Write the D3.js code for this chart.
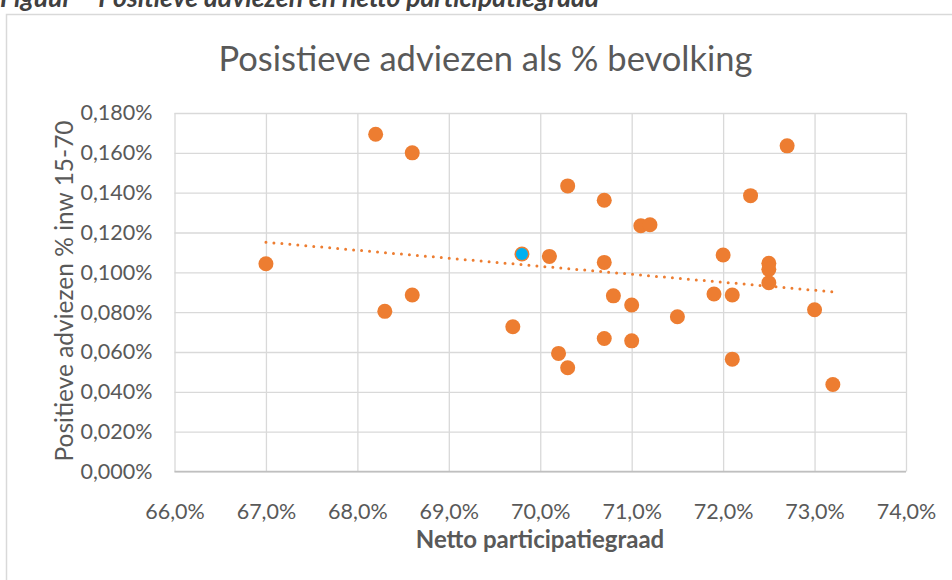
<!DOCTYPE html>
<html lang="nl">
<head>
<meta charset="utf-8">
<script src="https://cdn.jsdelivr.net/npm/d3@7"></script>
<style>
  html, body { margin: 0; padding: 0; background: #fff; overflow: hidden; }
  svg { display: block; font-family: Lato, "Open Sans", sans-serif; }
</style>
</head>
<body>
<div id="chart"></div>
<script>
// Netto participatiegraad (%) per gemeente
const participatie = [
  67.0, 68.2, 68.6, 68.3, 68.6, 69.8, 69.7, 70.1, 70.3, 70.2, 70.3,
  70.7, 70.7, 70.7, 70.8, 71.0, 71.0, 71.1, 71.2, 71.5, 71.9, 72.0,
  72.1, 72.1, 72.3, 72.5, 72.5, 72.5, 72.7, 73.0, 73.2,
];
// Positieve adviezen als % van inwoners 15-70
const adviezen = [
  0.1043, 0.1693, 0.16, 0.0804, 0.0886, 0.1092, 0.0727, 0.108, 0.1434, 0.0593, 0.0521,
  0.1362, 0.105, 0.0668, 0.0882, 0.0836, 0.0656, 0.1234, 0.1239, 0.0777, 0.0891, 0.1087,
  0.0886, 0.0564, 0.1385, 0.1045, 0.1015, 0.0948, 0.1635, 0.0812, 0.0437,
];
// uitgelichte gemeente (blauw)
const highlightX = [69.8];
const highlightY = [0.1092];

const xTicks = [66, 67, 68, 69, 70, 71, 72, 73, 74];
const yTicks = [0, 0.02, 0.04, 0.06, 0.08, 0.1, 0.12, 0.14, 0.16, 0.18];

const headerText = "Figuur – Positieve adviezen en netto participatiegraad";
const titleText = "Posistieve adviezen als % bevolking";
const xTitle = "Netto participatiegraad";
const yTitle = "Positieve adviezen % inw 15-70";

const width = 952, height = 580;
const plot = { left: 174.5, right: 906, top: 113, bottom: 471.5 };
const orange = "#ED7D31", blue = "#00B0F0", grid = "#D9D9D9", textCol = "#595959";

const svg = d3.select("#chart").append("svg")
  .attr("width", width).attr("height", height);

// kopregel (bovenkant valt buiten beeld, zoals in het origineel)
svg.append("text")
  .attr("x", 0).attr("y", 7)
  .style("font-size", "26.5px").style("font-weight", "bold").style("font-style", "italic")
  .attr("fill", "#404040")
  .text(headerText);

// kader van de grafiek
svg.append("rect")
  .attr("x", 6.5).attr("y", 14.5)
  .attr("width", 1000).attr("height", 1000)
  .attr("fill", "none").attr("stroke", grid).attr("stroke-width", 1.5);

const x = d3.scaleLinear().domain([66, 74]).range([plot.left, plot.right]);
const y = d3.scaleLinear().domain([0, 0.18]).range([plot.bottom, plot.top]);

const fmtX = (v) => d3.format(".1f")(v).replace(".", ",") + "%";
const fmtY = (v) => d3.format(".3f")(v).replace(".", ",") + "%";

// verticale rasterlijnen + x-labels
const gx = svg.append("g")
  .attr("transform", `translate(0,${plot.bottom})`)
  .call(d3.axisBottom(x).tickValues(xTicks).tickFormat(fmtX)
    .tickSize(-(plot.bottom - plot.top)).tickPadding(32));
// horizontale rasterlijnen + y-labels
const gy = svg.append("g")
  .attr("transform", `translate(${plot.left},0)`)
  .call(d3.axisLeft(y).tickValues(yTicks).tickFormat(fmtY)
    .tickSize(-(plot.right - plot.left)).tickPadding(22));

[gx, gy].forEach((g) => {
  g.select(".domain").remove();
  g.selectAll(".tick line").attr("stroke", grid).attr("stroke-width", 1.3);
  g.selectAll(".tick text")
    .attr("fill", textCol)
    .style("font-size", "21.5px")
    .style("font-family", "Lato, 'Open Sans', sans-serif");
});

// x-as lijn
svg.append("line")
  .attr("x1", plot.left).attr("x2", plot.right)
  .attr("y1", plot.bottom).attr("y2", plot.bottom)
  .attr("stroke", "#BFBFBF").attr("stroke-width", 1.5);

// lineaire trendlijn (kleinste kwadraten)
const mx = d3.mean(participatie), my = d3.mean(adviezen);
const sxy = d3.sum(participatie, (v, i) => (v - mx) * (adviezen[i] - my));
const sxx = d3.sum(participatie, (v) => (v - mx) ** 2);
const slope = sxy / sxx, intercept = my - slope * mx;
const trendX = d3.extent(participatie);

svg.append("path")
  .datum(trendX)
  .attr("fill", "none")
  .attr("stroke", orange)
  .attr("stroke-width", 3)
  .attr("stroke-linecap", "round")
  .attr("stroke-dasharray", "0 8")
  .attr("d", d3.line().x((d) => x(d)).y((d) => y(intercept + slope * d)));

// punten
svg.append("g")
  .selectAll("circle")
  .data(participatie)
  .join("circle")
  .attr("cx", (d) => x(d))
  .attr("cy", (d, i) => y(adviezen[i]))
  .attr("r", 7.5)
  .attr("fill", orange);

svg.append("g")
  .selectAll("circle")
  .data(highlightX)
  .join("circle")
  .attr("cx", (d) => x(d))
  .attr("cy", (d, i) => y(highlightY[i]))
  .attr("r", 6)
  .attr("fill", blue);

// titels
svg.append("text")
  .attr("x", 485.5).attr("y", 71)
  .attr("text-anchor", "middle")
  .attr("fill", textCol)
  .style("font-size", "34.5px")
  .text(titleText);

svg.append("text")
  .attr("x", 540).attr("y", 548)
  .attr("text-anchor", "middle")
  .attr("fill", textCol)
  .style("font-size", "24px").style("font-weight", "bold")
  .text(xTitle);

svg.append("text")
  .attr("transform", "translate(73,291) rotate(-90)")
  .attr("text-anchor", "middle")
  .attr("fill", textCol)
  .style("font-size", "24.5px")
  .text(yTitle);
</script>
</body>
</html>
